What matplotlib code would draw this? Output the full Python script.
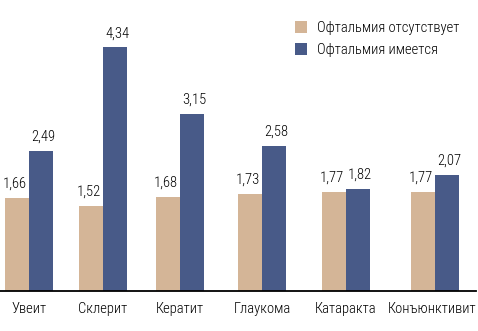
import matplotlib.pyplot as plt
from matplotlib import font_manager

categories = ["Увеит", "Склерит", "Кератит", "Глаукома", "Катаракта", "Конъюнктивит"]
absent = [1.66, 1.52, 1.68, 1.73, 1.77, 1.77]
present = [2.49, 4.34, 3.15, 2.58, 1.82, 2.07]
series_names = ["Офтальмия отсутствует", "Офтальмия имеется"]

# group centres in pixel units (groups widen towards the right)
centers = [29, 103, 180, 262, 346, 435]
bar_w = 24
px_per_unit = 56.2

names = {f.name for f in font_manager.fontManager.ttflist}
condensed = [n for n in ("Liberation Sans Narrow", "Roboto Condensed", "DejaVu Sans Condensed")
             if n in names]
if condensed:
    family, fs = [condensed[0], "DejaVu Sans"], 10.5
else:
    family, fs = ["Liberation Sans", "DejaVu Sans"], 9.5
plt.rcParams["font.family"] = family
plt.rcParams["font.weight"] = "light"

fig = plt.figure(figsize=(4.78, 3.31), dpi=100)
ax = fig.add_axes([0, 40 / 331, 1, 291 / 331])
ax.set_xlim(0, 478)
ax.set_ylim(0, 291 / px_per_unit)
ax.axis("off")

tan, blue = "#d4b597", "#485a88"
left = [c - bar_w / 2 for c in centers]
right = [c + bar_w / 2 for c in centers]
b1 = ax.bar(left, absent, width=bar_w, color=tan, label=series_names[0])
b2 = ax.bar(right, present, width=bar_w, color=blue, label=series_names[1])

for bars, vals, dx in ((b1, absent, -1.5), (b2, present, 1.5)):
    for rect, v in zip(bars, vals):
        ax.annotate(f"{v:.2f}".replace(".", ","),
                    (rect.get_x() + rect.get_width() / 2, v),
                    xytext=(dx, 5), textcoords="offset points",
                    ha="center", va="bottom", fontsize=fs)

# baseline
ax.plot([0, 476], [0, 0], color="black", lw=1.3, clip_on=False)

# category names under each group; the last one is kept inside the frame
for i, (c, name) in enumerate(zip(centers, categories)):
    last = i == len(categories) - 1
    ax.annotate(name, (476 if last else c, 0), xytext=(0, -8),
                textcoords="offset points", ha="right" if last else "center",
                va="top", fontsize=fs, annotation_clip=False)

ax.legend(loc="upper left", bbox_to_anchor=(289 / 478, 1 - 15 / 291),
          bbox_transform=ax.transAxes, frameon=False, fontsize=fs,
          handlelength=0.85, handleheight=0.85, handletextpad=0.7,
          labelspacing=0.55, borderaxespad=0)

fig.savefig("out.png", dpi=100)
